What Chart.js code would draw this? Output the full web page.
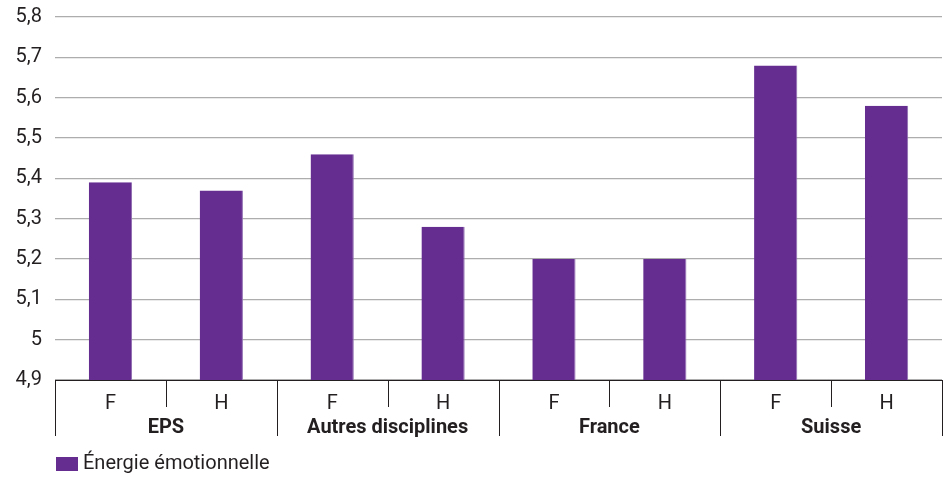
<!DOCTYPE html>
<html><head><meta charset="utf-8">
<script src="https://cdn.jsdelivr.net/npm/chart.js@4"></script>
<style>html,body{margin:0;padding:0;background:#fff}#wrap{width:949px;height:477px}</style>
</head><body><div id="wrap"><canvas id="c" width="949" height="477"></canvas></div>
<script>
const categories = ['F','H','F','H','F','H','F','H'];
const groups = ['EPS','Autres disciplines','France','Suisse'];
const values = [5.39,5.37,5.46,5.28,5.20,5.20,5.68,5.58];
const seriesName = 'Énergie émotionnelle';
const yTicks = [4.9,5.0,5.1,5.2,5.3,5.4,5.5,5.6,5.7,5.8];

const FONT = 'Roboto, "DejaVu Sans", sans-serif';
const TXT = '#231f20';
const BAR = '#662d91';

const extras = {
  id: 'extras',
  afterDraw(chart) {
    const ctx = chart.ctx, x = chart.scales.x, a = chart.chartArea;
    const n = categories.length;
    const half = (x.getPixelForValue(1) - x.getPixelForValue(0)) / 2;
    ctx.save();
    ctx.strokeStyle = TXT; ctx.lineWidth = 1;
    for (let i = 0; i <= n; i++) {
      const px = Math.round(x.getPixelForValue(0) - half + i * 2 * half) + 0.5;
      const yEnd = (i % 2 === 0) ? a.bottom + 56 : a.bottom + 27;
      ctx.beginPath(); ctx.moveTo(px, a.bottom); ctx.lineTo(px, yEnd); ctx.stroke();
    }
    ctx.fillStyle = TXT; ctx.font = 'bold 20px ' + FONT;
    ctx.textAlign = 'center'; ctx.textBaseline = 'middle';
    groups.forEach((g, k) => {
      const cx = (x.getPixelForValue(2*k) + x.getPixelForValue(2*k+1)) / 2;
      ctx.fillText(g, cx, a.bottom + 48);
    });
    // legend
    ctx.fillStyle = BAR;
    ctx.fillRect(a.left + 1, 457, 22, 14);
    ctx.fillStyle = TXT; ctx.font = '20px ' + FONT; ctx.textAlign = 'left';
    ctx.fillText(seriesName, a.left + 28, 464);
    ctx.restore();
  }
};

new Chart(document.getElementById('c'), {
  type: 'bar',
  data: { labels: categories, datasets: [{ label: seriesName, data: values, backgroundColor: BAR,
    borderColor: '#8f6cb0', borderWidth: {right:1, left:0, top:0, bottom:0}, categoryPercentage: 1, barPercentage: 0.39 }] },
  options: {
    responsive: false, animation: false,
    layout: { padding: { top: 17, right: 7, left: 0, bottom: 0 } },
    plugins: { legend: { display: false }, tooltip: { enabled: false } },
    scales: {
      x: {
        grid: { display: true, drawOnChartArea: false, drawTicks: false },
        border: { display: true, color: TXT, width: 1 },
        ticks: { color: TXT, font: { family: FONT, size: 20 }, padding: 12 },
        afterFit(s) { s.height = 97; s.paddingLeft = 0; s.paddingRight = 0; }
      },
      y: {
        min: 4.9, max: 5.8,
        afterBuildTicks(s) { s.ticks = yTicks.map(v => ({ value: v })); },
        grid: { color: '#adadad', lineWidth: 1.2, drawTicks: false },
        border: { display: false },
        ticks: { color: TXT, font: { family: FONT, size: 20 }, padding: 13,
          callback: v => String(Math.round(v*10)/10).replace('.', ',') },
        afterFit(s) { s.width = 55; s.paddingTop = 0; s.paddingBottom = 0; }
      }
    }
  },
  plugins: [extras]
});
</script></body></html>
